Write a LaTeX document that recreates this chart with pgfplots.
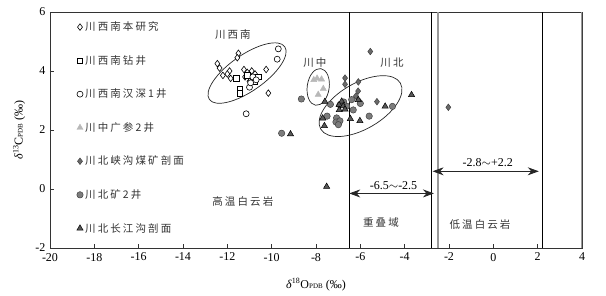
\documentclass[border=0pt]{standalone}
\usepackage{fontspec}
\setmainfont{Liberation Serif}
\newfontfamily\cjk[LetterSpace=20]{Noto Sans CJK SC}
\usepackage{pgfplots}
\pgfplotsset{compat=1.18}
\usetikzlibrary{arrows.meta}
\definecolor{lgrey}{HTML}{B8B8B8}
\definecolor{dgrey}{HTML}{6A6A6A}
\definecolor{mgrey}{HTML}{7C7C7C}
\definecolor{tgrey}{HTML}{585858}
\definecolor{txt}{HTML}{333333}
\begin{document}
\begin{tikzpicture}
\path (-50pt,-47pt) rectangle (556pt,248pt);
\begin{axis}[
  scale only axis, width=532pt, height=236pt,
  xmin=-20, xmax=4, ymin=-2, ymax=6,
  xtick={-20,-18,...,4}, ytick={-2,0,2,4,6},
  tick align=inside, xtick pos=bottom, ytick pos=left,
  major tick length=4pt,
  /pgf/number format/assume math mode=true,
  tick label style={font=\fontsize{12}{14}\selectfont},
  xticklabel style={yshift=-1.5pt},
  yticklabel style={xshift=-1pt},
  axis line style={black!80, line width=0.8pt},
  every tick/.style={black!80, line width=0.8pt},
  xlabel={\textit{δ}\textsuperscript{18}O{\scriptsize PDB} (‰)},
  ylabel={\textit{δ}\textsuperscript{13}C{\scriptsize PDB} (‰)},
  label style={font=\fontsize{12}{14}\selectfont},
  xlabel style={at={(axis description cs:0.5,-0.155)}, anchor=center},
  ylabel style={at={(axis description cs:-0.058,0.5)}, anchor=center},
  legend style={draw=none, fill=none, at={(axis cs:-18.8,5.74)}, anchor=north west,
    font=\fontsize{10.5}{12}\selectfont, row sep=19.2pt, inner sep=0pt,
    nodes={inner xsep=2pt, text=black!80}},
  legend cell align=left,
  legend image code/.code={\draw[#1] plot coordinates {(0pt,0pt)};},
]
% Chuan-xi-nan this study (open diamond)
\addplot[only marks, mark=diamond*, mark size=3.3pt, mark options={fill=white, draw=black, line width=0.6pt}] coordinates {
(-11.5,4.6) (-11.55,4.45) (-12.45,4.25) (-12.35,4.1) (-12.2,3.85) (-11.9,4.0)
(-11.85,3.75) (-11.25,4.05) (-11.1,3.95) (-10.9,4.0) (-10.75,3.9) (-10.25,4.05)
(-11.0,3.65) (-10.15,3.25) (-12.0,3.9) (-11.2,3.8)};
\addlegendentry{\cjk 川西南本研究}
% drilling wells (open square)
\addplot[only marks, mark=square*, mark size=2.7pt, mark options={fill=white, draw=black, line width=0.6pt}] coordinates {
(-11.6,3.75) (-11.45,3.4) (-11.45,3.25) (-10.6,3.8) (-11.1,3.85) (-10.75,3.65)};
\addlegendentry{\cjk 川西南钻井}
% Hanshen 1 (open circle)
\addplot[only marks, mark=*, mark size=3pt, mark options={fill=white, draw=black, line width=0.6pt}] coordinates {
(-9.7,4.75) (-9.75,4.4) (-11.15,2.55) (-11.0,3.45) (-10.95,3.6) (-10.85,3.8) (-10.7,3.7)};
\addlegendentry{\cjk 川西南汉深1井}
% Chuanzhong Guangcan 2 (light grey triangle)
\addplot[only marks, mark=triangle*, mark size=3.6pt, mark options={fill=lgrey, draw=lgrey}] coordinates {
(-7.95,3.75) (-7.75,3.72) (-7.67,3.4) (-7.9,3.2) (-8.1,3.7)};
\addlegendentry{\cjk 川中广参2井}
% Chuanbei Xiagou coal mine (dark diamond)
\addplot[only marks, mark=diamond*, mark size=3.3pt, mark options={fill=dgrey, draw=black!75, line width=0.5pt}] coordinates {
(-5.55,4.66) (-6.69,3.76) (-6.69,3.55) (-6.09,3.63) (-6.1,3.32) (-6.2,3.15)
(-6.02,2.96) (-5.25,2.96) (-2.03,2.77)};
\addlegendentry{\cjk 川北峡沟煤矿剖面}
% Chuanbei Kuang 2 (grey circle)
\addplot[only marks, mark=*, mark size=3.2pt, mark options={fill=mgrey, draw=black!75, line width=0.5pt}] coordinates {
(-8.66,3.05) (-9.55,1.89) (-7.35,2.87) (-7.5,2.47) (-7.07,2.41) (-7.1,2.27)
(-6.92,2.31) (-6.99,2.18) (-6.92,2.85) (-6.62,2.81) (-6.32,2.68) (-6.39,3.03)
(-6.0,2.9) (-5.6,2.47) (-4.55,2.8) (-6.75,2.95)};
\addlegendentry{\cjk 川北矿2井}
% Chuanbei Changjianggou (dark triangle)
\addplot[only marks, mark=triangle*, mark size=3.6pt, mark options={fill=tgrey, draw=black, line width=0.5pt}] coordinates {
(-9.15,1.86) (-7.6,2.96) (-7.7,2.4) (-7.62,2.14) (-6.84,2.97) (-6.96,2.85)
(-6.77,2.81) (-6.69,2.7) (-6.95,2.68) (-6.45,2.38) (-6.02,2.31) (-6.09,3.02)
(-4.88,2.8) (-3.69,3.19) (-7.52,0.08)};
\addlegendentry{\cjk 川北长江沟剖面}
% boundary lines
\draw[black, line width=0.9pt] (axis cs:-6.5,-2) -- (axis cs:-6.5,6);
\draw[black, line width=0.9pt] (axis cs:-2.8,-2) -- (axis cs:-2.8,6);
\draw[gray!80, line width=1.5pt] (axis cs:-2.5,-2) -- (axis cs:-2.5,6);
\draw[black, line width=0.9pt] (axis cs:2.2,-2) -- (axis cs:2.2,6);
\draw[gray!80, line width=1.5pt] (axis cs:4,-2) -- (axis cs:4,6);
% ellipses
\draw[black!85, line width=0.7pt, rotate around={35:(axis cs:-11.11,3.93)}] (axis cs:-11.11,3.93) ellipse [x radius=46pt, y radius=18pt];
\draw[black!85, line width=0.7pt, rotate around={-8:(axis cs:-7.90,3.46)}] (axis cs:-7.90,3.46) ellipse [x radius=11pt, y radius=18.5pt];
\draw[black!85, line width=0.7pt, rotate around={30:(axis cs:-5.99,2.81)}] (axis cs:-5.99,2.81) ellipse [x radius=46pt, y radius=23pt];
% arrows
\draw[black!85, line width=0.8pt, {Stealth[length=11pt,width=8pt]}-{Stealth[length=11pt,width=8pt]}] (axis cs:-6.5,-0.15) -- (axis cs:-2.68,-0.15);
\draw[black!85, line width=0.8pt, {Stealth[length=11pt,width=8pt]}-{Stealth[length=11pt,width=8pt]}] (axis cs:-2.74,0.6) -- (axis cs:2.05,0.6);
\node[font=\fontsize{12}{14}\selectfont] at (axis cs:-4.5,0.12) {-6.5$\sim$-2.5};
\node[font=\fontsize{12}{14}\selectfont] at (axis cs:-0.25,0.88) {-2.8$\sim$+2.2};
% region labels
\node[txt, font=\cjk\fontsize{10.5}{12}\selectfont] at (axis cs:-11.75,5.22) {川西南};
\node[txt, font=\cjk\fontsize{10.5}{12}\selectfont] at (axis cs:-8.05,4.3) {川中};
\node[txt, font=\cjk\fontsize{10.5}{12}\selectfont] at (axis cs:-4.57,4.27) {川北};
\node[txt, font=\cjk\fontsize{10.5}{12}\selectfont] at (axis cs:-11.3,-0.44) {高温白云岩};
\node[txt, font=\cjk\fontsize{10.5}{12}\selectfont] at (axis cs:-5.07,-1.12) {重叠域};
\node[txt, font=\cjk\fontsize{10.5}{12}\selectfont] at (axis cs:-0.6,-1.19) {低温白云岩};
\end{axis}
\end{tikzpicture}
\end{document}
